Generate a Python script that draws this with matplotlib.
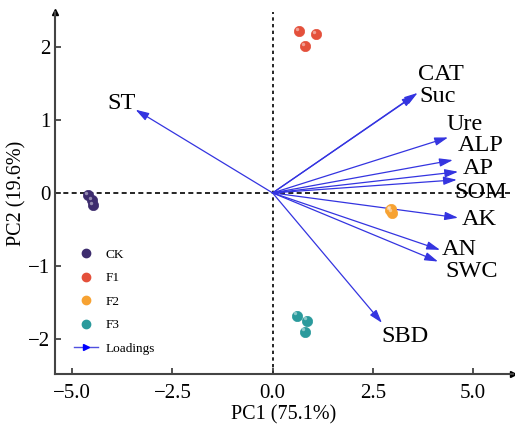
import matplotlib.pyplot as plt
from matplotlib.lines import Line2D

plt.rcParams['font.family'] = ['Liberation Serif', 'DejaVu Serif']

# 样本得分
groups = ['CK', 'F1', 'F2', 'F3']
colors = ['#3d2c6e', '#e4503b', '#f7a232', '#2a9a9c']
pc1_scores = [[-4.6, -4.5, -4.48], [0.65, 1.08, 0.8], [2.92, 2.98, 2.95], [0.6, 0.85, 0.82]]
pc2_scores = [[-0.03, -0.1, -0.17], [2.22, 2.18, 2.01], [-0.24, -0.27, -0.22], [-1.68, -1.75, -1.9]]

# 载荷
variables = ['ST', 'CAT', 'Suc', 'Ure', 'ALP', 'AP', 'SOM', 'AK', 'AN', 'SWC', 'SBD']
load_pc1 = [-3.42, 3.62, 3.56, 4.38, 4.5, 4.63, 4.6, 4.63, 4.18, 4.13, 2.73]
load_pc2 = [1.14, 1.37, 1.34, 0.76, 0.45, 0.29, 0.18, -0.34, -0.78, -0.94, -1.78]
# 标签左边缘位置
label_pos = [(-4.12, 1.23), (3.62, 1.62), (3.67, 1.32), (4.35, 0.94), (4.62, 0.65),
             (4.75, 0.33), (4.55, 0.01), (4.72, -0.36), (4.22, -0.77), (4.32, -1.08), (2.72, -1.97)]

fig = plt.figure(figsize=(5.15, 4.24), dpi=100)
ax = fig.add_axes([0.107, 0.118, 0.889, 0.854])

ax.axhline(0, color='black', ls=(0, (3, 2)), lw=1.2, zorder=1)
ax.axvline(0, color='black', ls=(0, (2, 2)), lw=1.2, zorder=1)

for i in range(len(variables)):
    ax.annotate('', xy=(load_pc1[i], load_pc2[i]), xytext=(0, 0),
                arrowprops=dict(arrowstyle='-|>,head_length=0.8,head_width=0.25',
                                color='#3434e0', lw=0.9, shrinkA=0, shrinkB=0),
                zorder=3)
    ax.text(label_pos[i][0], label_pos[i][1], variables[i], fontsize=17.5,
            ha='left', va='center', zorder=4)

for g, c, xs, ys in zip(groups, colors, pc1_scores, pc2_scores):
    ax.scatter(xs, ys, s=55, color=c, edgecolors=c, linewidths=0.5, zorder=5)
    # 高光
    ax.scatter([x - 0.05 for x in xs], [y + 0.03 for y in ys], s=6, color='white',
               alpha=0.45, linewidths=0, zorder=6)

handles = [Line2D([], [], marker='o', ls='', color=c, markersize=6) for c in colors]
handles.append(Line2D([], [], color='#5050e0', lw=1, marker='>', markersize=5,
                      markevery=[1], markerfacecolor='blue', markeredgecolor='blue'))
ax.legend(handles, groups + ['Loadings'], loc='lower left', bbox_to_anchor=(0.015, 0.02),
          frameon=False, fontsize=9.5, handlelength=1.8, labelspacing=0.85, handletextpad=0.6)

ax.set_xlim(-5.43, 6.0)
ax.set_ylim(-2.48, 2.48)
ax.set_xticks([-5.0, -2.5, 0.0, 2.5, 5.0])
ax.set_xticklabels(['\u22125.0', '\u22122.5', '0.0', '2.5', '5.0'])
ax.set_yticks([-2, -1, 0, 1, 2])
ax.set_yticklabels(['\u22122', '\u22121', '0', '1', '2'])
ax.tick_params(labelsize=15, direction='in', length=4, width=1.2, colors='#333333',
               labelcolor='black')
ax.tick_params(axis='x', pad=7)
ax.spines['top'].set_visible(False)
ax.spines['right'].set_visible(False)
for s in ['left', 'bottom']:
    ax.spines[s].set_linewidth(1.5)
    ax.spines[s].set_color('#444444')
ax.plot(1, 0, '>', color='black', transform=ax.transAxes, clip_on=False, markersize=5)
ax.plot(0, 1, '^', color='black', transform=ax.transAxes, clip_on=False, markersize=5)

ax.set_xlabel('PC1 (75.1%)', fontsize=14.5, labelpad=2)
ax.set_ylabel('PC2 (19.6%)', fontsize=14.5, labelpad=1)

fig.savefig('out.png', dpi=100)
